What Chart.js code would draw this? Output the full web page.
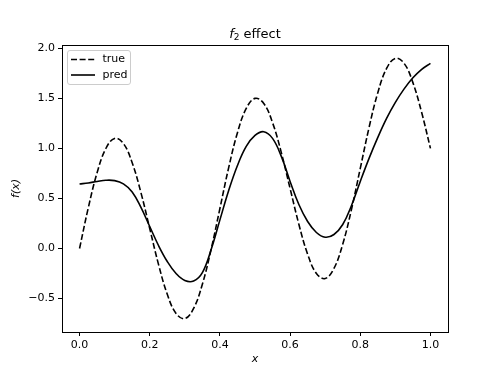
<!DOCTYPE html>
<html>
<head>
<meta charset="utf-8">
<script src="https://cdn.jsdelivr.net/npm/chart.js@4/dist/chart.umd.min.js"></script>
<style>
  html, body { margin: 0; padding: 0; background: #fff; }
  #wrap { width: 498px; height: 374px; }
</style>
</head>
<body>
<div id="wrap"><canvas id="effectChart" width="498" height="374"></canvas></div>
<script>
// Data
const xValues = [
    0, 0.025, 0.05, 0.075, 0.1, 0.125, 0.15, 0.175, 0.2, 0.225,
    0.25, 0.275, 0.3, 0.325, 0.35, 0.375, 0.4, 0.425, 0.45, 0.475,
    0.5, 0.525, 0.55, 0.575, 0.6, 0.625, 0.65, 0.675, 0.7, 0.725,
    0.75, 0.775, 0.8, 0.825, 0.85, 0.875, 0.9, 0.925, 0.95, 0.975, 1.0
];
const trueValues = [
    0, 0.408, 0.757, 0.999, 1.1, 1.049, 0.857, 0.558, 0.2, -0.158,
    -0.457, -0.649, -0.7, -0.599, -0.357, -0.008, 0.4, 0.808, 1.157, 1.399,
    1.5, 1.449, 1.257, 0.958, 0.6, 0.242, -0.057, -0.249, -0.3, -0.199,
    0.043, 0.392, 0.8, 1.208, 1.557, 1.799, 1.9, 1.849, 1.657, 1.358, 1.0
];
const predValues = [
    0.645, 0.655, 0.67, 0.682, 0.678, 0.645, 0.565, 0.41, 0.22, 0.03,
    -0.13, -0.25, -0.32, -0.325, -0.24, -0.01, 0.286, 0.58, 0.83, 1.02,
    1.13, 1.167, 1.10, 0.92, 0.67, 0.44, 0.27, 0.16, 0.113, 0.14,
    0.24, 0.43, 0.67, 0.90, 1.11, 1.30, 1.46, 1.595, 1.705, 1.79, 1.85
];
const xTicks = [0, 0.2, 0.4, 0.6, 0.8, 1.0];
const yTicks = [-0.5, 0, 0.5, 1.0, 1.5, 2.0];
const seriesNames = ['true', 'pred'];

const FONT = '"DejaVu Sans", sans-serif';

function toPoints(ys) {
    return xValues.map((x, i) => ({ x: x, y: ys[i] }));
}

function fmt(v) {
    if (Math.abs(v) < 1e-9) v = 0;
    return v.toFixed(1).replace('-', '\u2212');
}

// frame, title, axis labels and legend drawn matplotlib-style
const decorations = {
    id: 'decorations',
    afterDraw(chart) {
        const ctx = chart.ctx;
        const area = chart.chartArea;
        ctx.save();

        // full frame
        ctx.strokeStyle = '#000';
        ctx.lineWidth = 1;
        ctx.strokeRect(Math.round(area.left) + 0.5, Math.round(area.top) + 0.5,
            Math.round(area.right - area.left), Math.round(area.bottom - area.top));

        const cx = (area.left + area.right) / 2;

        // title: f_2 effect
        ctx.fillStyle = '#000';
        ctx.textBaseline = 'alphabetic';
        ctx.font = 'italic 13px ' + FONT;
        const fW = ctx.measureText('f').width;
        ctx.font = '9px ' + FONT;
        const sW = ctx.measureText('2').width;
        ctx.font = '13px ' + FONT;
        const eW = ctx.measureText(' effect').width;
        let tx = cx - (fW + sW + eW) / 2;
        const ty = 38;
        ctx.textAlign = 'left';
        ctx.font = 'italic 13px ' + FONT;
        ctx.fillText('f', tx, ty);
        tx += fW;
        ctx.font = '9px ' + FONT;
        ctx.fillText('2', tx, ty + 2);
        tx += sW;
        ctx.font = '13px ' + FONT;
        ctx.fillText(' effect', tx, ty);

        // x label
        ctx.font = 'italic 11px ' + FONT;
        ctx.textAlign = 'center';
        ctx.textBaseline = 'middle';
        ctx.fillText('x', cx, 359);

        // y label
        ctx.save();
        ctx.translate(16, (area.top + area.bottom) / 2);
        ctx.rotate(-Math.PI / 2);
        ctx.fillText('f(x)', 0, 0);
        ctx.restore();

        // legend
        const lx = 67.5, ly = 50.5, lw = 63, lh = 34, r = 2.5;
        ctx.beginPath();
        ctx.moveTo(lx + r, ly);
        ctx.arcTo(lx + lw, ly, lx + lw, ly + lh, r);
        ctx.arcTo(lx + lw, ly + lh, lx, ly + lh, r);
        ctx.arcTo(lx, ly + lh, lx, ly, r);
        ctx.arcTo(lx, ly, lx + lw, ly, r);
        ctx.closePath();
        ctx.fillStyle = 'rgba(255,255,255,0.8)';
        ctx.fill();
        ctx.strokeStyle = '#cccccc';
        ctx.stroke();

        const rows = [59.5, 75];
        chart.data.datasets.forEach((ds, i) => {
            ctx.beginPath();
            ctx.setLineDash(ds.borderDash || []);
            ctx.lineWidth = ds.borderWidth;
            ctx.strokeStyle = '#000';
            ctx.moveTo(71, rows[i]);
            ctx.lineTo(95, rows[i]);
            ctx.stroke();
            ctx.setLineDash([]);
            ctx.fillStyle = '#000';
            ctx.font = '11px ' + FONT;
            ctx.textAlign = 'left';
            ctx.textBaseline = 'middle';
            ctx.fillText(seriesNames[i], 102.5, rows[i]);
        });

        ctx.restore();
    }
};

const ctx = document.getElementById('effectChart').getContext('2d');
new Chart(ctx, {
    type: 'line',
    data: {
        datasets: [
            {
                label: seriesNames[0],
                data: toPoints(trueValues),
                borderColor: '#000',
                borderWidth: 1.6,
                borderDash: [6, 2.6],
                pointRadius: 0,
                fill: false,
                tension: 0.4
            },
            {
                label: seriesNames[1],
                data: toPoints(predValues),
                borderColor: '#000',
                borderWidth: 1.6,
                pointRadius: 0,
                fill: false,
                tension: 0.4
            }
        ]
    },
    options: {
        responsive: false,
        animation: false,
        events: [],
        layout: {
            padding: { left: 0, right: 50, top: 45, bottom: 0 }
        },
        plugins: {
            legend: { display: false },
            title: { display: false },
            tooltip: { enabled: false }
        },
        scales: {
            x: {
                type: 'linear',
                min: -0.05,
                max: 1.05,
                afterFit(scale) { scale.height = 42; },
                afterBuildTicks(scale) {
                    scale.ticks = xTicks.map(v => ({ value: v }));
                },
                grid: {
                    drawOnChartArea: false,
                    drawTicks: true,
                    tickLength: 4,
                    tickColor: '#000'
                },
                border: { display: true, color: '#000' },
                ticks: {
                    color: '#000',
                    padding: 3,
                    maxRotation: 0,
                    font: { family: FONT, size: 11 },
                    callback: v => fmt(v)
                }
            },
            y: {
                type: 'linear',
                min: -0.834,
                max: 2.033,
                afterFit(scale) { scale.width = 62; },
                afterBuildTicks(scale) {
                    scale.ticks = yTicks.map(v => ({ value: v }));
                },
                grid: {
                    drawOnChartArea: false,
                    drawTicks: true,
                    tickLength: 4,
                    tickColor: '#000'
                },
                border: { display: true, color: '#000' },
                ticks: {
                    color: '#000',
                    padding: 3,
                    font: { family: FONT, size: 11 },
                    callback: v => fmt(v)
                }
            }
        }
    },
    plugins: [decorations]
});
</script>
</body>
</html>
